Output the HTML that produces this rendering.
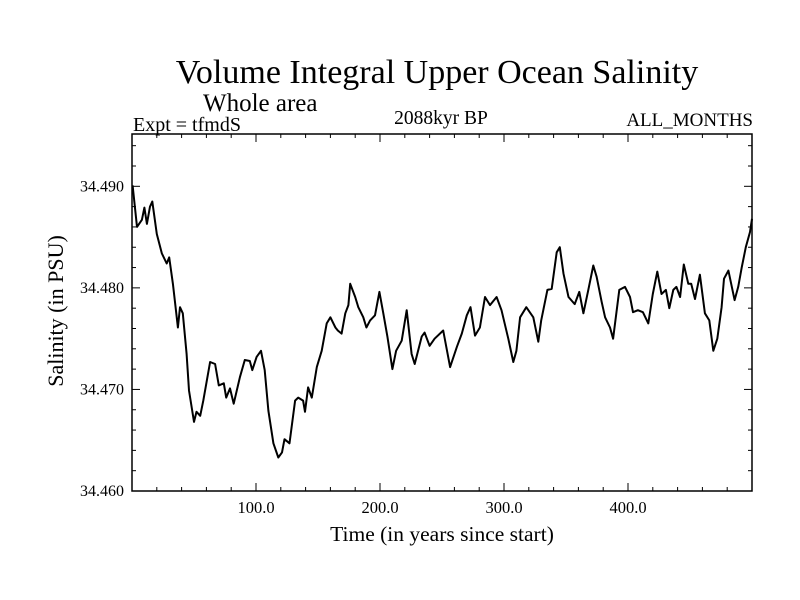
<!DOCTYPE html>
<html><head><meta charset="utf-8"><style>
html,body{margin:0;padding:0;background:#fff;}
svg{display:block;font-family:"Liberation Serif",serif;}
</style></head><body>
<svg id="chart" width="800" height="600">
<text x="437" y="83" font-size="34" text-anchor="middle">Volume Integral Upper Ocean Salinity</text>
<text x="203" y="111" font-size="25">Whole area</text>
<text x="133" y="131" font-size="20">Expt = tfmdS</text>
<text x="441" y="124" font-size="19.5" text-anchor="middle">2088kyr BP</text>
<text x="753" y="126" font-size="19" text-anchor="end">ALL_MONTHS</text>
<text x="442" y="541" font-size="21.5" text-anchor="middle">Time (in years since start)</text>
<text transform="translate(63,311) rotate(-90)" font-size="22" text-anchor="middle">Salinity (in PSU)</text>
<g id="axes"></g>
<path id="series" fill="none" stroke="#000" stroke-width="2" stroke-linejoin="round"></path>
<rect x="132" y="134" width="620" height="357" fill="none" stroke="#000" stroke-width="1.5"></rect>
</svg>
<script>
const years=[0.5,4,8,10,12,14.5,16.4,20,24,28,30,33,37,38.7,41,44,46,50,52,55,57.5,63,67,70,74,76,79,82,87,91,95,97,100.5,104,107,110,114,118,121,123,127,131.5,134,138,139.5,142,145,149,153,157,160,164,166,169,172,174.5,176,180,182.5,186.5,189,192,196,199.5,202.7,206,210,213,217.5,221.5,225.5,228,233.6,236,240,244,251,256.5,262,266,270,273,276.6,280.6,284.7,288.7,294,298,303.5,307.5,310,313,318,323.6,327.7,330,335,338.5,342.5,345,348,352,357,360.7,364,368,372,374.7,378.8,381.5,385.5,388,393,397.6,401.6,404,408,412,416.4,420,423.6,427,430.6,433.3,436.5,439,442,445,448.6,451,454,458,462,465.6,468.8,472,475.5,477.4,481,486,488.9,491.7,495,498.4,500];
const salinity=[34.4901,34.4860,34.4867,34.4879,34.4863,34.4880,34.4885,34.4853,34.4834,34.4824,34.4830,34.4804,34.4761,34.4781,34.4775,34.4735,34.4699,34.4668,34.4678,34.4674,34.4689,34.4727,34.4725,34.4704,34.4706,34.4692,34.4701,34.4686,34.4712,34.4729,34.4728,34.4719,34.4732,34.4738,34.4719,34.4679,34.4647,34.4633,34.4638,34.4651,34.4647,34.4689,34.4692,34.4689,34.4678,34.4702,34.4692,34.4722,34.4738,34.4765,34.4771,34.4761,34.4758,34.4755,34.4775,34.4783,34.4804,34.4791,34.4781,34.4771,34.4761,34.4768,34.4773,34.4796,34.4775,34.4752,34.4720,34.4738,34.4748,34.4778,34.4735,34.4725,34.4752,34.4756,34.4743,34.4750,34.4758,34.4722,34.4742,34.4755,34.4773,34.4781,34.4753,34.4761,34.4791,34.4783,34.4791,34.4778,34.4750,34.4727,34.4738,34.4771,34.4781,34.4771,34.4747,34.4768,34.4798,34.4799,34.4835,34.4840,34.4814,34.4791,34.4784,34.4796,34.4775,34.4798,34.4822,34.4811,34.4786,34.4771,34.4761,34.4750,34.4798,34.4801,34.4791,34.4776,34.4778,34.4776,34.4765,34.4794,34.4816,34.4794,34.4798,34.4780,34.4798,34.4801,34.4791,34.4823,34.4804,34.4804,34.4789,34.4813,34.4775,34.4768,34.4738,34.4750,34.4781,34.4809,34.4817,34.4788,34.4801,34.4820,34.4840,34.4855,34.4868];
const xTicks=[100,200,300,400];
const xTickLabels=["100.0","200.0","300.0","400.0"];
const yTicks=[34.46,34.47,34.48,34.49];
const yTickLabels=["34.460","34.470","34.480","34.490"];

const X0=132,X1=752,Y0=491,Y1=134;
const xMin=0,xMax=500,yMin=34.460,yMax=34.49515;
const xs=v=>X0+(v-xMin)/(xMax-xMin)*(X1-X0);
const ys=v=>Y0-(v-yMin)/(yMax-yMin)*(Y0-Y1);
const NS="http://www.w3.org/2000/svg";
const axes=document.getElementById('axes');
function line(x1,y1,x2,y2,name){
  const l=document.createElementNS(NS,'line');
  l.setAttribute('x1',x1);l.setAttribute('y1',y1);l.setAttribute('x2',x2);l.setAttribute('y2',y2);
  l.setAttribute('stroke','#000');l.setAttribute('stroke-width','1');
  
  
  axes.appendChild(l);
}
for(let v=20;v<500;v+=20){
  const major=v%100===0, len=major?8:4, x=xs(v);
  line(x,Y0,x,Y0-len,'x-tick');
  line(x,Y1,x,Y1+len,'x-tick-top');
}
for(let k=0;k<=17;k++){
  const v=34.460+k*0.002;
  const major=k%5===0, len=major?8:4, y=ys(v);
  line(X0,y,X0+len,y,'y-tick');
  line(X1,y,X1-len,y,'y-tick-right');
}
xTicks.forEach((v,i)=>{
  const t=document.createElementNS(NS,'text');
  t.setAttribute('x',xs(v));t.setAttribute('y',513);
  t.setAttribute('font-size','16.5');t.setAttribute('text-anchor','middle');
  t.textContent=xTickLabels[i];
  
  
  axes.appendChild(t);
});
yTicks.forEach((v,i)=>{
  const t=document.createElementNS(NS,'text');
  t.setAttribute('x',124);t.setAttribute('y',ys(v)+5);
  t.setAttribute('font-size','16');t.setAttribute('text-anchor','end');
  t.textContent=yTickLabels[i];
  
  
  axes.appendChild(t);
});
let d='';
years.forEach((v,i)=>{d+=(i?'L':'M')+xs(v).toFixed(1)+','+ys(salinity[i]).toFixed(1);});
document.getElementById('series').setAttribute('d',d);
</script>
</body></html>
